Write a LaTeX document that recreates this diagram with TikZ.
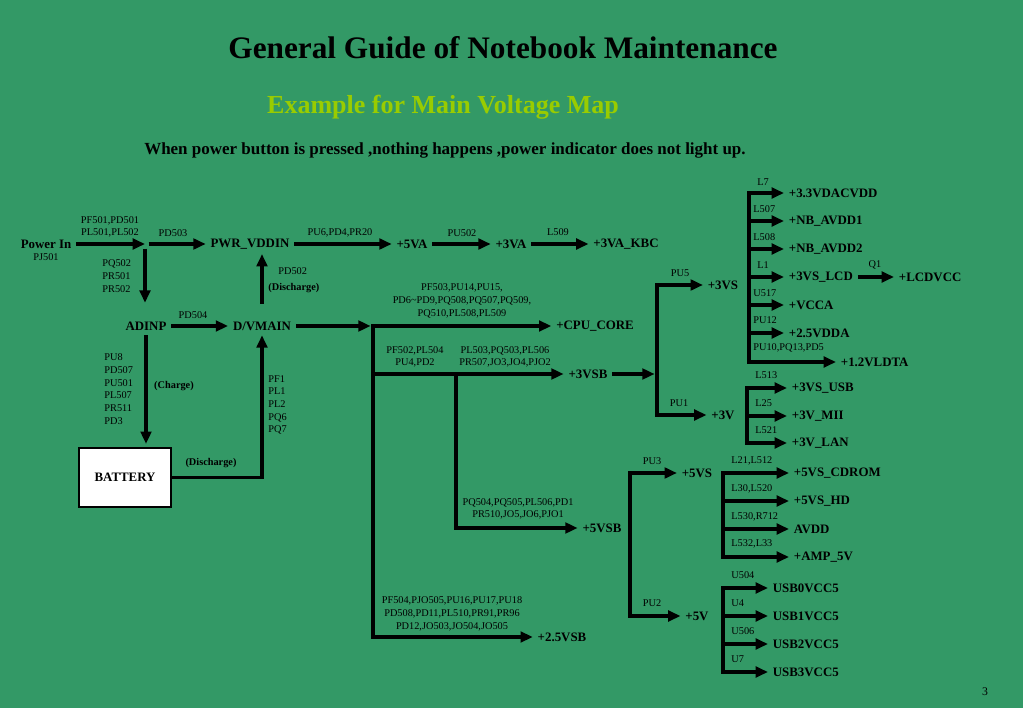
\documentclass[tikz,border=0pt]{standalone}
\usepackage{fontspec}
\setmainfont{Liberation Serif}
\definecolor{mapgreen}{RGB}{51,153,102}
\definecolor{mapyellow}{RGB}{153,204,0}
\usetikzlibrary{arrows.meta,positioning}

\begin{document}
\begin{tikzpicture}[
  x=0.03cm, y=-0.03cm,
  rail/.style={font=\fontsize{11}{13}\selectfont\bfseries,inner sep=4pt},
  part/.style={font=\fontsize{8.8}{10.8}\selectfont,inner sep=1pt,align=center},
  note/.style={font=\fontsize{8.8}{10.8}\selectfont\bfseries,inner sep=1pt},
  wire/.style={line width=3.4pt},
  feed/.style={wire,-{Triangle[length=10.5pt,width=9pt]}},
]
  % page
  \useasboundingbox (0,0) rectangle (1023,708);
  \fill[mapgreen] (0,0) rectangle (1023,708);

  % headings
  \node[font=\fontsize{26.7}{30}\selectfont\bfseries] (title) at (503,48)
    {General Guide of Notebook Maintenance};
  \node[font=\fontsize{22.2}{26}\selectfont\bfseries,text=mapyellow] (subtitle) at (443,107)
    {Example for Main Voltage Map};
  \node[font=\fontsize{14.5}{17}\selectfont\bfseries] (symptom) at (445,150)
    {When power button is pressed ,nothing happens ,power indicator does not light up.};

  % adapter and battery
  \node[rail] (pin) at (46,244) {Power In};
  \node[part] (pjin) at (46,257) {PJ501};
  \coordinate (jin) at (145,244);
  \node[rail] (pwrvddin) at (250,244) {PWR\_VDDIN};
  \node[rail] (adinp) at (146,326) {ADINP};
  \node[rail] (dvmain) at (262,326) {D/VMAIN};
  \node[draw=black,fill=white,line width=1pt,minimum width=2.76cm,minimum height=1.77cm,
        font=\fontsize{11}{13}\selectfont\bfseries] (batt) at (125,477.5) {BATTERY};

  \draw[feed] (pin) -- (jin);
  \draw[feed,shorten <=3pt] (jin) -- (pwrvddin);
  \draw[feed,shorten <=4pt,shorten >=12pt] (jin) -- (jin |- adinp.north);
  \draw[feed] (adinp) -- (dvmain);
  \draw[feed,shorten >=3pt] (adinp.south) -- (adinp.south |- batt.north);
  \draw[feed] (batt.east) -| (dvmain.south);
  \draw[feed,shorten <=11pt] (dvmain.north) -- (dvmain.north |- pwrvddin.south);

  \node[part] (pfin) at (110,227) {PF501,PD501\\PL501,PL502};
  \node[part] (pdin) at (173,233) {PD503};
  \node[part,anchor=west,align=left] (pqin) at (101,276) {PQ502\\PR501\\PR502};
  \node[part] (pdad) at (193,315) {PD504};
  \node[part,anchor=west] (pddis) at (277,271) {PD502};
  \node[note,anchor=west] (disup) at (267,288) {(Discharge)};
  \node[part,anchor=west,align=left] (pucharge) at (103,389)
    {PU8\\PD507\\PU501\\PL507\\PR511\\PD3};
  \node[note] (charge) at (174,386) {(Charge)};
  \node[note] (disbatt) at (211,463) {(Discharge)};
  \node[part,anchor=west,align=left] (pfbatt) at (267,405) {PF1\\PL1\\PL2\\PQ6\\PQ7};

  % +5VA chain
  \node[rail] (fiveva) at (412,244) {+5VA};
  \node[rail] (threeva) at (511,244) {+3VA};
  \node[rail] (vakbc) at (626,244) {+3VA\_KBC};
  \draw[feed] (pwrvddin) -- (fiveva);
  \draw[feed] (fiveva) -- (threeva);
  \draw[feed] (threeva) -- (vakbc);
  \node[part] (pufive) at (340,233) {PU6,PD4,PR20};
  \node[part] (puthree) at (462,233) {PU502};
  \node[part] (lkbc) at (558,232) {L509};

  % main rail
  \coordinate (bcpu) at (373,326);
  \coordinate (bvsb) at (373,637);
  \coordinate (bfive) at (456,374);
  \node[rail] (cpucore) at (595,326) {+CPU\_CORE};
  \node[rail] (vsbthree) at (588,374) {+3VSB};
  \node[rail] (vsbfive) at (602,528) {+5VSB};
  \node[rail] (vsbtwofive) at (562,637) {+2.5VSB};
  \draw[feed,shorten >=2pt] (dvmain) -- (bcpu);
  \draw[feed] (bvsb) -- (bcpu) -- (cpucore);
  \draw[feed] (bcpu) -- (bvsb) -- (vsbtwofive);
  \draw[feed] (bcpu |- vsbthree) -- (vsbthree);
  \draw[feed] (bfive) -- (bfive |- vsbfive) -- (vsbfive);

  \node[part] (pfcpu) at (462,301) {PF503,PU14,PU15,\\PD6\textasciitilde PD9,PQ508,PQ507,PQ509,\\PQ510,PL508,PL509};
  \node[part] (pfsb) at (415,357) {PF502,PL504\\PU4,PD2};
  \node[part] (plsb) at (505,357) {PL503,PQ503,PL506\\PR507,JO3,JO4,PJO2};
  \node[part] (pqsb) at (518,509) {PQ504,PQ505,PL506,PD1\\PR510,JO5,JO6,PJO1};
  \node[part] (pfvsb) at (452,614) {PF504,PJO505,PU16,PU17,PU18\\PD508,PD11,PL510,PR91,PR96\\PD12,JO503,JO504,JO505};

  % +3VSB split
  \coordinate (svtop) at (657,285);
  \coordinate (svbot) at (657,415);
  \node[rail] (vsthree) at (723,285) {+3VS};
  \node[rail] (vthree) at (723,415) {+3V};
  \draw[feed,shorten >=2pt] (vsbthree) -- (svtop |- vsbthree);
  \draw[feed] (svbot) -- (svtop) -- (vsthree);
  \draw[feed] (svtop) -- (svbot) -- (vthree);
  \node[part] (pusv) at (680,273) {PU5};
  \node[part] (puv) at (679,403) {PU1};

  % +5VSB split
  \coordinate (fvtop) at (630,473);
  \coordinate (fvbot) at (630,616);
  \node[rail] (vsfive) at (697,473) {+5VS};
  \node[rail] (vfive) at (697,616) {+5V};
  \draw[feed] (fvbot) -- (fvtop) -- (vsfive);
  \draw[feed] (fvtop) -- (fvbot) -- (vfive);
  \node[part] (pufv) at (652,461) {PU3};
  \node[part] (pufve) at (652,603) {PU2};

  % +3VS loads
  \coordinate (lstop) at (749,193);
  \coordinate (lsbot) at (749,362);
  \node[rail,anchor=west] (dacvdd) at (784,193) {+3.3VDACVDD};
  \node[rail,anchor=west] (nbavdda) at (784,221) {+NB\_AVDD1};
  \node[rail,anchor=west] (nbavddb) at (784,249) {+NB\_AVDD2};
  \node[rail,anchor=west] (vslcd) at (784,277) {+3VS\_LCD};
  \node[rail,anchor=west] (vcca) at (784,305) {+VCCA};
  \node[rail,anchor=west] (vdda) at (784,333) {+2.5VDDA};
  \node[rail,anchor=west] (vldta) at (836,362) {+1.2VLDTA};
  \node[rail,anchor=west] (lcdvcc) at (894,277) {+LCDVCC};
  \draw[feed] (lsbot) -- (lstop) -- (dacvdd);
  \draw[feed] (lstop |- nbavdda) -- (nbavdda);
  \draw[feed] (lstop |- nbavddb) -- (nbavddb);
  \draw[feed] (lstop |- vslcd) -- (vslcd);
  \draw[feed] (lstop |- vcca) -- (vcca);
  \draw[feed] (lstop |- vdda) -- (vdda);
  \draw[feed] (lstop) -- (lsbot) -- (vldta);
  \draw[feed] (vslcd) -- (lcdvcc);

  \node[part,anchor=west] (lseven) at (756,182) {L7};
  \node[part,anchor=west] (lfiveseven) at (752,209) {L507};
  \node[part,anchor=west] (lfiveeight) at (752,237) {L508};
  \node[part,anchor=west] (lone) at (756,265) {L1};
  \node[part,anchor=west] (ufive) at (752,293) {U517};
  \node[part,anchor=west] (putwelve) at (752,320) {PU12};
  \node[part,anchor=west] (puten) at (752,348) {PU10,PQ13,PD5};
  \node[part] (qone) at (875,265) {Q1};

  % +3V loads
  \coordinate (lvtop) at (747,388);
  \coordinate (lvbot) at (747,443);
  \node[rail,anchor=west] (vsusb) at (787,388) {+3VS\_USB};
  \node[rail,anchor=west] (vmii) at (787,416) {+3V\_MII};
  \node[rail,anchor=west] (vlan) at (787,443) {+3V\_LAN};
  \draw[feed] (lvbot) -- (lvtop) -- (vsusb);
  \draw[feed] (lvtop |- vmii) -- (vmii);
  \draw[feed] (lvtop) -- (lvbot) -- (vlan);
  \node[part,anchor=west] (lusb) at (754,375) {L513};
  \node[part,anchor=west] (lmii) at (754,403) {L25};
  \node[part,anchor=west] (llan) at (754,430) {L521};

  % +5VS loads
  \coordinate (fstop) at (723,473);
  \coordinate (fsbot) at (723,557);
  \node[rail,anchor=west] (cdrom) at (789,473) {+5VS\_CDROM};
  \node[rail,anchor=west] (vshd) at (789,501) {+5VS\_HD};
  \node[rail,anchor=west] (avdd) at (789,529) {AVDD};
  \node[rail,anchor=west] (ampfive) at (789,557) {+AMP\_5V};
  \draw[feed] (fsbot) -- (fstop) -- (cdrom);
  \draw[feed] (fstop |- vshd) -- (vshd);
  \draw[feed] (fstop |- avdd) -- (avdd);
  \draw[feed] (fstop) -- (fsbot) -- (ampfive);
  \node[part,anchor=west] (lcdrom) at (730,461) {L21,L512};
  \node[part,anchor=west] (lhd) at (730,489) {L30,L520};
  \node[part,anchor=west] (lavdd) at (730,517) {L530,R712};
  \node[part,anchor=west] (lamp) at (730,544) {L532,L33};

  % +5V loads
  \coordinate (ustop) at (723,588);
  \coordinate (usbot) at (723,672);
  \node[rail,anchor=west] (usbzero) at (768,588) {USB0VCC5};
  \node[rail,anchor=west] (usbone) at (768,616) {USB1VCC5};
  \node[rail,anchor=west] (usbtwo) at (768,644) {USB2VCC5};
  \node[rail,anchor=west] (usbthree) at (768,672) {USB3VCC5};
  \draw[feed] (usbot) -- (ustop) -- (usbzero);
  \draw[feed] (ustop |- usbone) -- (usbone);
  \draw[feed] (ustop |- usbtwo) -- (usbtwo);
  \draw[feed] (ustop) -- (usbot) -- (usbthree);
  \node[part,anchor=west] (uzero) at (730,575) {U504};
  \node[part,anchor=west] (uone) at (730,603) {U4};
  \node[part,anchor=west] (utwo) at (730,631) {U506};
  \node[part,anchor=west] (uthree) at (730,659) {U7};

  % page number
  \node[font=\fontsize{10}{12}\selectfont] (pageno) at (985,692) {3};
\end{tikzpicture}
\end{document}
